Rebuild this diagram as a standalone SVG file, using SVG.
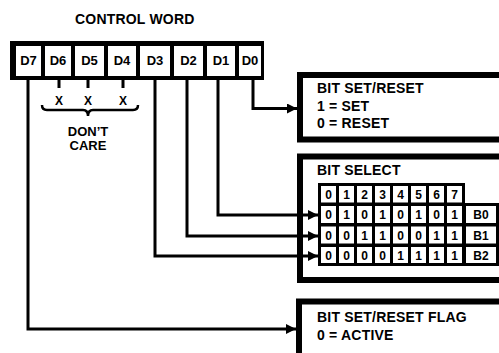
<svg xmlns="http://www.w3.org/2000/svg" width="499" height="353" viewBox="0 0 499 353">
<style>
text{font-family:"Liberation Sans",Arial,sans-serif;font-weight:bold;fill:#000}
.t{font-size:14px;letter-spacing:0.2px}
.c{font-size:13px;text-anchor:middle}
.m{font-size:12px;text-anchor:middle}
.w{fill:#fff}
.ln{fill:none;stroke:#000;stroke-width:3}
.bx{fill:#fff;stroke:#000;stroke-width:6}
</style>
<defs>
<marker id="ah" viewBox="0 0 10 10" refX="10" refY="5" markerWidth="10" markerHeight="10" markerUnits="userSpaceOnUse" orient="auto">
<path d="M0,0 L10,5 L0,10 Z" fill="#000"/>
</marker>
</defs>
<rect width="499" height="353" fill="#fff"/>

<text id="title" class="t" x="75" y="24" letter-spacing="0.6">CONTROL WORD</text>

<g id="control-word">
<rect x="10" y="41" width="254" height="39" fill="#000"/>
<rect class="w" x="16" y="46" width="25" height="30"/>
<rect class="w" x="45" y="46" width="26" height="30"/>
<rect class="w" x="75" y="46" width="29" height="30"/>
<rect class="w" x="108" y="46" width="28" height="30"/>
<rect class="w" x="140" y="46" width="30" height="30"/>
<rect class="w" x="174" y="46" width="29" height="30"/>
<rect class="w" x="207" y="46" width="28" height="30"/>
<rect class="w" x="239" y="46" width="22" height="30"/>
<text class="c" x="28.5" y="65">D7</text>
<text class="c" x="58" y="65">D6</text>
<text class="c" x="89.5" y="65">D5</text>
<text class="c" x="122" y="65">D4</text>
<text class="c" x="155" y="65">D3</text>
<text class="c" x="188.5" y="65">D2</text>
<text class="c" x="221" y="65">D1</text>
<text class="c" x="250" y="65">D0</text>
</g>

<g id="dont-care">
<path class="ln" d="M59,80 V88 M88,80 V88 M123,80 V88"/>
<text class="m" x="59" y="105">X</text>
<text class="m" x="88" y="105">X</text>
<text class="m" x="123" y="105">X</text>
<path d="M42,105 Q42,110 47,110 H83 Q88,110 88,116 Q88,110 93,110 H133 Q138,110 138,105" fill="none" stroke="#000" stroke-width="2.5"/>
<text class="c" x="88" y="136" font-size="14px">DON’T</text>
<text class="c" x="88" y="150" font-size="14px">CARE</text>
</g>

<g id="box-set-reset">
<path class="bx" d="M505,75 H300 V139.5 H505"/>
<text class="t" x="317" y="93">BIT SET/RESET</text>
<text class="t" x="317" y="111">1 = SET</text>
<text class="t" x="317" y="128">0 = RESET</text>
</g>

<g id="box-bit-select">
<path class="bx" d="M505,156.5 H300 V280 H505"/>
<text class="t" x="317" y="175">BIT SELECT</text>
<rect x="318" y="183" width="147" height="22" fill="#000"/>
<rect x="318" y="203" width="181" height="63" fill="#000"/>
<g id="matrix-cells">
<rect class="w" x="321" y="186" width="15" height="16.5"/><rect class="w" x="339" y="186" width="15" height="16.5"/><rect class="w" x="357" y="186" width="15" height="16.5"/><rect class="w" x="375" y="186" width="15" height="16.5"/><rect class="w" x="393" y="186" width="15" height="16.5"/><rect class="w" x="411" y="186" width="15" height="16.5"/><rect class="w" x="429" y="186" width="15" height="16.5"/><rect class="w" x="447" y="186" width="15" height="16.5"/>
<rect class="w" x="321" y="206" width="15" height="17"/><rect class="w" x="339" y="206" width="15" height="17"/><rect class="w" x="357" y="206" width="15" height="17"/><rect class="w" x="375" y="206" width="15" height="17"/><rect class="w" x="393" y="206" width="15" height="17"/><rect class="w" x="411" y="206" width="15" height="17"/><rect class="w" x="429" y="206" width="15" height="17"/><rect class="w" x="447" y="206" width="15" height="17"/><rect class="w" x="466" y="206" width="30" height="17"/>
<rect class="w" x="321" y="226.5" width="15" height="17"/><rect class="w" x="339" y="226.5" width="15" height="17"/><rect class="w" x="357" y="226.5" width="15" height="17"/><rect class="w" x="375" y="226.5" width="15" height="17"/><rect class="w" x="393" y="226.5" width="15" height="17"/><rect class="w" x="411" y="226.5" width="15" height="17"/><rect class="w" x="429" y="226.5" width="15" height="17"/><rect class="w" x="447" y="226.5" width="15" height="17"/><rect class="w" x="466" y="226.5" width="30" height="17"/>
<rect class="w" x="321" y="247" width="15" height="16"/><rect class="w" x="339" y="247" width="15" height="16"/><rect class="w" x="357" y="247" width="15" height="16"/><rect class="w" x="375" y="247" width="15" height="16"/><rect class="w" x="393" y="247" width="15" height="16"/><rect class="w" x="411" y="247" width="15" height="16"/><rect class="w" x="429" y="247" width="15" height="16"/><rect class="w" x="447" y="247" width="15" height="16"/><rect class="w" x="466" y="247" width="30" height="16"/>
</g>
<g id="matrix-text">
<text class="m" x="328.5" y="199">0</text><text class="m" x="346.5" y="199">1</text><text class="m" x="364.5" y="199">2</text><text class="m" x="382.5" y="199">3</text><text class="m" x="400.5" y="199">4</text><text class="m" x="418.5" y="199">5</text><text class="m" x="436.5" y="199">6</text><text class="m" x="454.5" y="199">7</text>
<text class="m" x="328.5" y="219">0</text><text class="m" x="346.5" y="219">1</text><text class="m" x="364.5" y="219">0</text><text class="m" x="382.5" y="219">1</text><text class="m" x="400.5" y="219">0</text><text class="m" x="418.5" y="219">1</text><text class="m" x="436.5" y="219">0</text><text class="m" x="454.5" y="219">1</text><text class="m" x="481" y="219">B0</text>
<text class="m" x="328.5" y="239.5">0</text><text class="m" x="346.5" y="239.5">0</text><text class="m" x="364.5" y="239.5">1</text><text class="m" x="382.5" y="239.5">1</text><text class="m" x="400.5" y="239.5">0</text><text class="m" x="418.5" y="239.5">0</text><text class="m" x="436.5" y="239.5">1</text><text class="m" x="454.5" y="239.5">1</text><text class="m" x="481" y="239.5">B1</text>
<text class="m" x="328.5" y="259.5">0</text><text class="m" x="346.5" y="259.5">0</text><text class="m" x="364.5" y="259.5">0</text><text class="m" x="382.5" y="259.5">0</text><text class="m" x="400.5" y="259.5">1</text><text class="m" x="418.5" y="259.5">1</text><text class="m" x="436.5" y="259.5">1</text><text class="m" x="454.5" y="259.5">1</text><text class="m" x="481" y="259.5">B2</text>
</g>
</g>

<g id="box-flag">
<path class="bx" d="M505,301.5 H299 V360"/>
<text class="t" x="317" y="322">BIT SET/RESET FLAG</text>
<text class="t" x="317" y="340">0 = ACTIVE</text>
</g>

<g id="connectors">
<path class="ln" d="M253,80 V108.5 H297" marker-end="url(#ah)"/>
<path class="ln" d="M218,80 V215 H318" marker-end="url(#ah)"/>
<path class="ln" d="M187,80 V236 H318" marker-end="url(#ah)"/>
<path class="ln" d="M155,80 V256 H318" marker-end="url(#ah)"/>
<path class="ln" d="M28,80 V329 H296" marker-end="url(#ah)"/>
</g>
</svg>
